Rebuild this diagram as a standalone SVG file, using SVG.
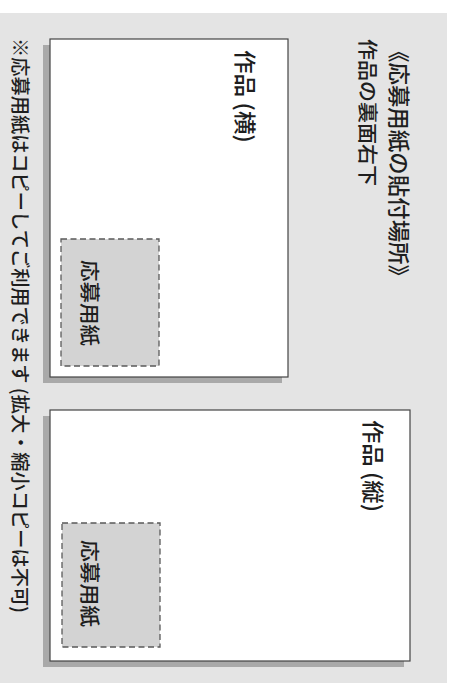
<svg xmlns="http://www.w3.org/2000/svg" width="452" height="683" viewBox="0 0 452 683">
<style>
.t{font-family:"Noto Sans CJK JP","Noto Sans",sans-serif;font-weight:500;fill:#1e1e1e;dominant-baseline:central}
.shadow{fill:#a9a9a9}
.paper{fill:#fff;stroke:#444;stroke-width:1.2}
.form{fill:#d3d3d3;stroke:#5a5a5a;stroke-width:1.3;stroke-dasharray:6 3.5}
</style>
<rect x="0" y="0" width="452" height="683" fill="#fff"/>
<rect x="0" y="13" width="447" height="670" fill="#e4e4e4"/>
<g id="title">
<text class="t" font-size="22" transform="translate(401,40) rotate(90)" textLength="247" lengthAdjust="spacingAndGlyphs">《応募用紙の貼付場所》</text>
<text class="t" font-size="20" transform="translate(368,39) rotate(90)" textLength="147" lengthAdjust="spacingAndGlyphs">作品の裏面右下</text>
</g>
<g id="work-landscape">
<rect class="shadow" x="43" y="45" width="239" height="338"/>
<rect class="paper" x="50" y="39" width="238" height="338"/>
<text class="t" font-size="22" transform="translate(247,50) rotate(90)" textLength="93" lengthAdjust="spacingAndGlyphs">作品 (横)</text>
</g>
<g id="form-landscape">
<rect class="form" x="61" y="239" width="98" height="127"/>
<text class="t" font-size="20" transform="translate(90,260) rotate(90)" textLength="86" lengthAdjust="spacingAndGlyphs">応募用紙</text>
</g>
<g id="work-portrait">
<rect class="shadow" x="43" y="416" width="361" height="251"/>
<rect class="paper" x="50" y="410" width="360" height="251"/>
<text class="t" font-size="22" transform="translate(375,420) rotate(90)" textLength="92" lengthAdjust="spacingAndGlyphs">作品 (縦)</text>
</g>
<g id="form-portrait">
<rect class="form" x="62" y="523" width="98" height="124"/>
<text class="t" font-size="20" transform="translate(90,540) rotate(90)" textLength="87" lengthAdjust="spacingAndGlyphs">応募用紙</text>
</g>
<g id="note">
<text class="t" font-size="19" transform="translate(21,38) rotate(90)" textLength="575" lengthAdjust="spacingAndGlyphs">※応募用紙はコピーしてご利用できます (拡大・縮小コピーは不可)</text>
</g>
<g id="connectors"></g>
</svg>
